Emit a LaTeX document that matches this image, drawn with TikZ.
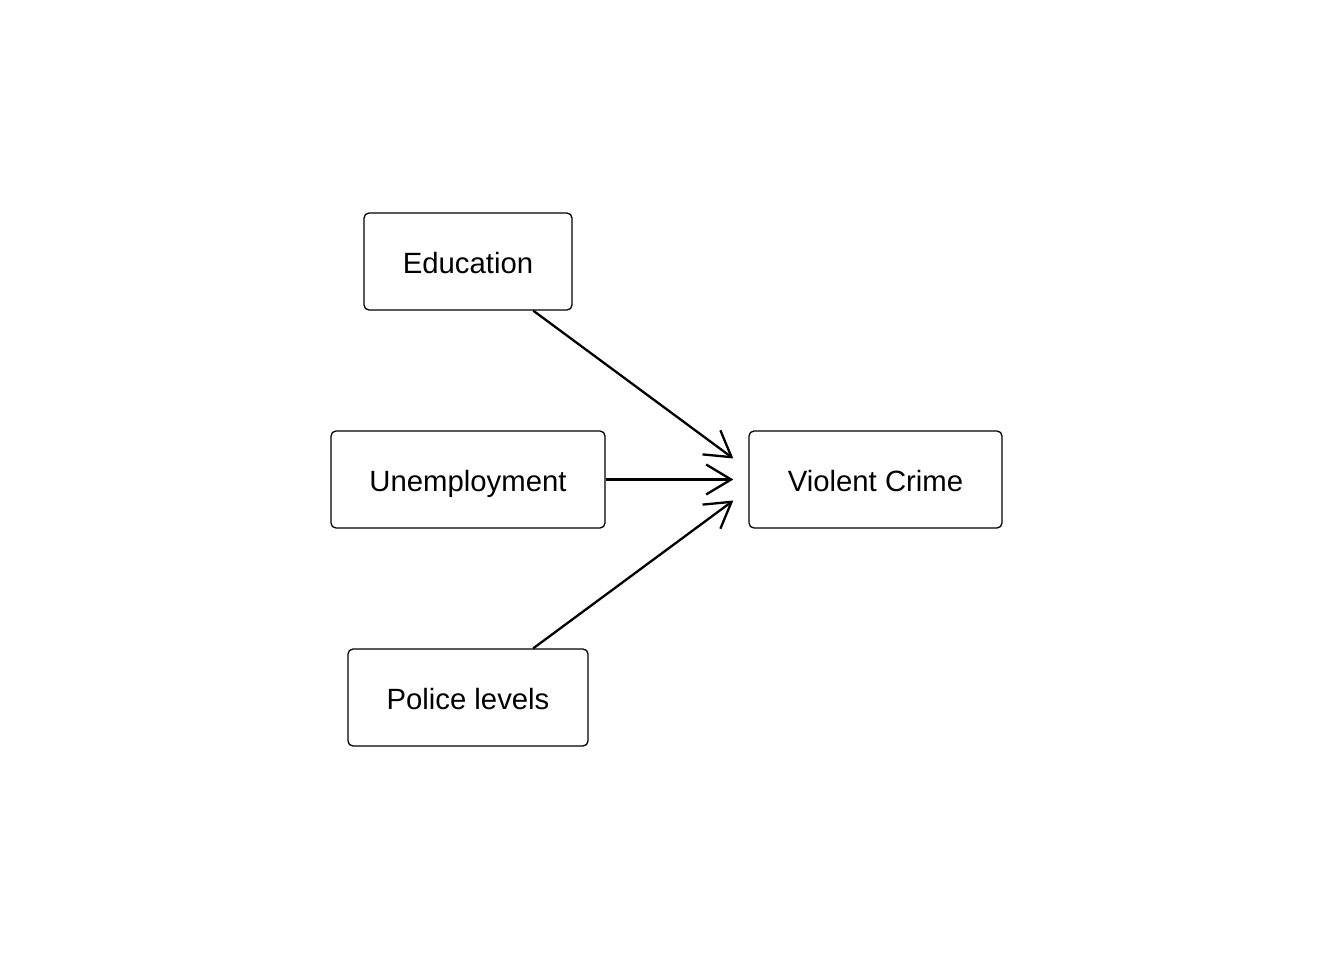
\documentclass[tikz,border=0pt]{standalone}
\usepackage{fontspec}
\setmainfont{Liberation Sans}
\usetikzlibrary{arrows.meta}
\begin{document}
\begin{tikzpicture}[x=1pt,y=-1pt,
  varbox/.style={draw=black,line width=1.3pt,rounded corners=5pt,fill=white,
    minimum height=97pt,inner sep=0pt,text height=23.6pt,text depth=0pt,
    font=\fontsize{29.3}{35}\selectfont},
  link/.style={line width=2.3pt,-{Straight Barb[length=25pt,width=30pt,line width=2.3pt]}}]
\useasboundingbox[fill=white] (0,0) rectangle (1344,960);
\node[varbox,minimum width=208pt] (edu) at (468,261.5) {Education};
\node[varbox,minimum width=274pt] (unemp) at (468,479.5) {Unemployment};
\node[varbox,minimum width=240pt] (police) at (468,697.5) {Police levels};
\node[varbox,minimum width=253pt] (vc) at (875.5,479.5) {Violent Crime};
\coordinate (t1) at ([xshift=-15pt,yshift=21pt]vc.west);
\coordinate (t2) at ([xshift=-15pt]vc.west);
\coordinate (t3) at ([xshift=-15pt,yshift=-21pt]vc.west);
\draw[link] (edu.-37) -- (t1);
\draw[link] (unemp.east) -- (t2);
\draw[link] (police.37) -- (t3);
\end{tikzpicture}
\end{document}
